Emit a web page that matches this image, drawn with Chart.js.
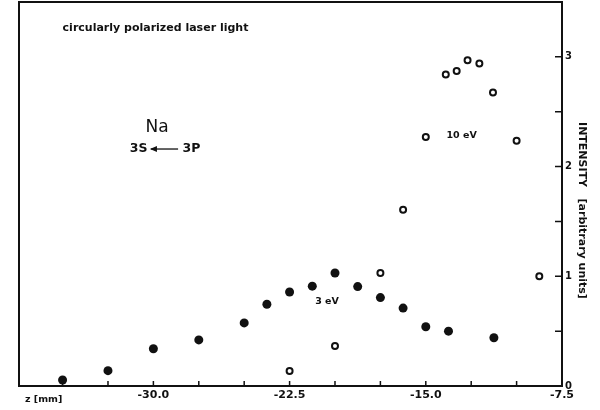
<!DOCTYPE html>
<html>
<head>
<meta charset="utf-8">
<script src="https://cdn.jsdelivr.net/npm/chart.js@4"></script>
<style>
  body { margin: 0; background: #fff; }
  canvas { display: block; }
</style>
</head>
<body>
<canvas id="chart" width="600" height="410"></canvas>
<script>
// data
const z3eV = [-35, -32.5, -30, -27.5, -25, -23.75, -22.5, -21.25, -20, -18.75, -17.5, -16.25, -15, -13.75, -11.25];
const intensity3eV = [0.055, 0.14, 0.34, 0.42, 0.575, 0.745, 0.857, 0.91, 1.03, 0.906, 0.806, 0.71, 0.54, 0.50, 0.44];
const z10eV = [-22.5, -20, -17.5, -16.25, -15, -13.9, -13.3, -12.7, -12.05, -11.3, -10, -8.75];
const intensity10eV = [0.136, 0.365, 1.03, 1.606, 2.27, 2.84, 2.87, 2.97, 2.94, 2.675, 2.236, 1.0];
const zLabels = [-30, -22.5, -15, -7.5];
const intensityLabels = [0, 1, 2, 3];

const ink = '#111';
const font = 'DejaVu Sans';

// text written inside the plot, placed in data coordinates
const notes = [
    { text: 'circularly polarized laser light', z: -35, y: 3.26, size: 11, align: 'left' },
    { text: 'Na', z: -29.8, y: 2.355, size: 17, align: 'center', weight: 'normal' },
    { text: '10 eV', z: -13.03, y: 2.28, size: 9.5, align: 'center' },
    { text: '3 eV', z: -20.44, y: 0.766, size: 9.5, align: 'center' }
];

const toPoints = (xs, ys) => xs.map((x, i) => ({ x, y: ys[i] }));

const frame = {
    id: 'frame',
    afterDraw(chart) {
        const { ctx, chartArea: a, scales: { x, y } } = chart;
        ctx.save();
        ctx.strokeStyle = ink;
        ctx.lineWidth = 2;
        ctx.strokeRect(a.left, a.top, a.right - a.left, a.bottom - a.top);

        // inward tick marks
        ctx.lineWidth = 1.5;
        ctx.beginPath();
        x.ticks.forEach(t => {
            if (t.value <= x.min || t.value >= x.max) return;
            const px = x.getPixelForValue(t.value);
            ctx.moveTo(px, a.bottom);
            ctx.lineTo(px, a.bottom - 5);
        });
        y.ticks.forEach(t => {
            if (t.value <= y.min || t.value >= y.max) return;
            const py = y.getPixelForValue(t.value);
            ctx.moveTo(a.right, py);
            ctx.lineTo(a.right - 7, py);
        });
        ctx.stroke();

        ctx.fillStyle = ink;
        ctx.textBaseline = 'middle';
        notes.forEach(n => {
            ctx.font = (n.weight || 'bold') + ' ' + n.size + 'px "' + font + '"';
            ctx.textAlign = n.align;
            ctx.fillText(n.text, x.getPixelForValue(n.z), y.getPixelForValue(n.y));
        });

        // 3S <--- 3P transition
        const ty = y.getPixelForValue(2.16);
        ctx.font = 'bold 12.5px "' + font + '"';
        ctx.textAlign = 'right';
        ctx.fillText('3S', x.getPixelForValue(-30.33), ty);
        ctx.textAlign = 'left';
        ctx.fillText('3P', x.getPixelForValue(-28.4), ty);
        const x0 = x.getPixelForValue(-30.19), x1 = x.getPixelForValue(-28.64);
        ctx.lineWidth = 1.3;
        ctx.beginPath();
        ctx.moveTo(x0 + 1, ty);
        ctx.lineTo(x1, ty);
        ctx.stroke();
        ctx.beginPath();
        ctx.moveTo(x0, ty);
        ctx.lineTo(x0 + 7, ty - 3);
        ctx.lineTo(x0 + 7, ty + 3);
        ctx.closePath();
        ctx.fill();

        // axis captions
        ctx.font = 'bold 9.5px "' + font + '"';
        ctx.textAlign = 'left';
        ctx.fillText('z [mm]', a.left + 6, 400);

        ctx.translate(582, y.getPixelForValue(1.6));
        ctx.rotate(Math.PI / 2);
        ctx.textAlign = 'center';
        ctx.font = 'bold 11px "' + font + '"';
        ctx.fillText('INTENSITY   [arbitrary units]', 0, 0);
        ctx.restore();
    }
};

new Chart(document.getElementById('chart'), {
    type: 'scatter',
    data: {
        datasets: [
            {
                label: '3 eV',
                data: toPoints(z3eV, intensity3eV),
                pointStyle: 'circle',
                pointRadius: 4.5,
                pointBackgroundColor: ink,
                pointBorderWidth: 0
            },
            {
                label: '10 eV',
                data: toPoints(z10eV, intensity10eV),
                pointStyle: 'circle',
                pointRadius: 3,
                pointBackgroundColor: '#fff',
                pointBorderColor: ink,
                pointBorderWidth: 2
            }
        ]
    },
    options: {
        responsive: false,
        animation: false,
        layout: { autoPadding: false, padding: { left: 19, top: 2, right: 0, bottom: 0 } },
        plugins: { legend: { display: false }, tooltip: { enabled: false } },
        scales: {
            x: {
                type: 'linear',
                position: 'bottom',
                min: -37.4,
                max: -7.5,
                grid: { display: false, drawTicks: false },
                border: { display: false },
                ticks: {
                    stepSize: 2.5,
                    includeBounds: false,
                    autoSkip: false,
                    maxRotation: 0,
                    padding: 3,
                    color: ink,
                    font: { family: font, size: 11, weight: 'bold' },
                    callback: v => zLabels.includes(v) ? v.toFixed(1) : ''
                },
                afterFit: s => { s.height = 24; s.paddingLeft = 0; s.paddingRight = 0; }
            },
            y: {
                type: 'linear',
                position: 'right',
                min: 0,
                max: 3.5,
                grid: { display: false, drawTicks: false },
                border: { display: false },
                ticks: {
                    stepSize: 0.5,
                    includeBounds: false,
                    autoSkip: false,
                    padding: 3,
                    color: ink,
                    font: { family: font, size: 10, weight: 'bold' },
                    callback: v => intensityLabels.includes(v) ? String(v) : ''
                },
                afterFit: s => { s.width = 38; s.paddingTop = 0; s.paddingBottom = 0; }
            }
        }
    },
    plugins: [frame]
});
</script>
</body>
</html>
